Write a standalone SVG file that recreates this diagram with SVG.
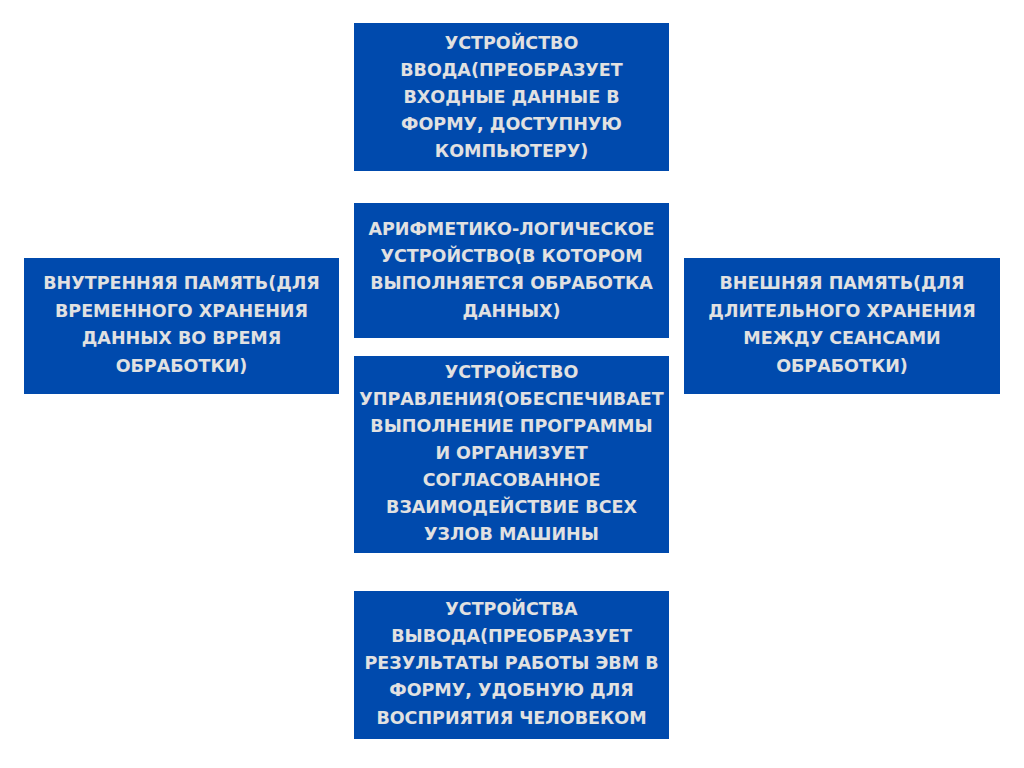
<svg xmlns="http://www.w3.org/2000/svg" width="1024" height="768" viewBox="0 0 1024 768">
<style>
.box{fill:#004AAD;}
.t{font-family:"DejaVu Sans","Liberation Sans",sans-serif;font-weight:bold;font-size:17.5px;fill:#E1E1E1;text-anchor:middle;letter-spacing:0px;}
</style>
<rect width="1024" height="768" fill="#ffffff"/>
<g id="input">
<rect class="box" x="354" y="23" width="315" height="148"/>
<text class="t" x="511.5" y="49">УСТРОЙСТВО</text>
<text class="t" x="511.5" y="76">ВВОДА(ПРЕОБРАЗУЕТ</text>
<text class="t" x="511.5" y="103">ВХОДНЫЕ ДАННЫЕ В</text>
<text class="t" x="511.5" y="130">ФОРМУ, ДОСТУПНУЮ</text>
<text class="t" x="511.5" y="157">КОМПЬЮТЕРУ)</text>
</g>
<g id="alu">
<rect class="box" x="354" y="203" width="315" height="135"/>
<text class="t" x="511.5" y="235">АРИФМЕТИКО-ЛОГИЧЕСКОЕ</text>
<text class="t" x="511.5" y="262">УСТРОЙСТВО(В КОТОРОМ</text>
<text class="t" x="511.5" y="289">ВЫПОЛНЯЕТСЯ ОБРАБОТКА</text>
<text class="t" x="511.5" y="317">ДАННЫХ)</text>
</g>
<g id="control">
<rect class="box" x="354" y="356" width="315" height="197"/>
<text class="t" x="511.5" y="378">УСТРОЙСТВО</text>
<text class="t" x="511.5" y="405">УПРАВЛЕНИЯ(ОБЕСПЕЧИВАЕТ</text>
<text class="t" x="511.5" y="432">ВЫПОЛНЕНИЕ ПРОГРАММЫ</text>
<text class="t" x="511.5" y="459">И ОРГАНИЗУЕТ</text>
<text class="t" x="511.5" y="486">СОГЛАСОВАННОЕ</text>
<text class="t" x="511.5" y="513">ВЗАИМОДЕЙСТВИЕ ВСЕХ</text>
<text class="t" x="511.5" y="540">УЗЛОВ МАШИНЫ</text>
</g>
<g id="internal">
<rect class="box" x="24" y="258" width="315" height="136"/>
<text class="t" x="181.5" y="289">ВНУТРЕННЯЯ ПАМЯТЬ(ДЛЯ</text>
<text class="t" x="181.5" y="317">ВРЕМЕННОГО ХРАНЕНИЯ</text>
<text class="t" x="181.5" y="344">ДАННЫХ ВО ВРЕМЯ</text>
<text class="t" x="181.5" y="372">ОБРАБОТКИ)</text>
</g>
<g id="external">
<rect class="box" x="684" y="258" width="316" height="136"/>
<text class="t" x="842" y="289">ВНЕШНЯЯ ПАМЯТЬ(ДЛЯ</text>
<text class="t" x="842" y="317">ДЛИТЕЛЬНОГО ХРАНЕНИЯ</text>
<text class="t" x="842" y="344">МЕЖДУ СЕАНСАМИ</text>
<text class="t" x="842" y="372">ОБРАБОТКИ)</text>
</g>
<g id="output">
<rect class="box" x="354" y="591" width="315" height="148"/>
<text class="t" x="511.5" y="615">УСТРОЙСТВА</text>
<text class="t" x="511.5" y="642">ВЫВОДА(ПРЕОБРАЗУЕТ</text>
<text class="t" x="511.5" y="669">РЕЗУЛЬТАТЫ РАБОТЫ ЭВМ В</text>
<text class="t" x="511.5" y="696">ФОРМУ, УДОБНУЮ ДЛЯ</text>
<text class="t" x="511.5" y="724">ВОСПРИЯТИЯ ЧЕЛОВЕКОМ</text>
</g>
<g id="connectors"></g>
</svg>
